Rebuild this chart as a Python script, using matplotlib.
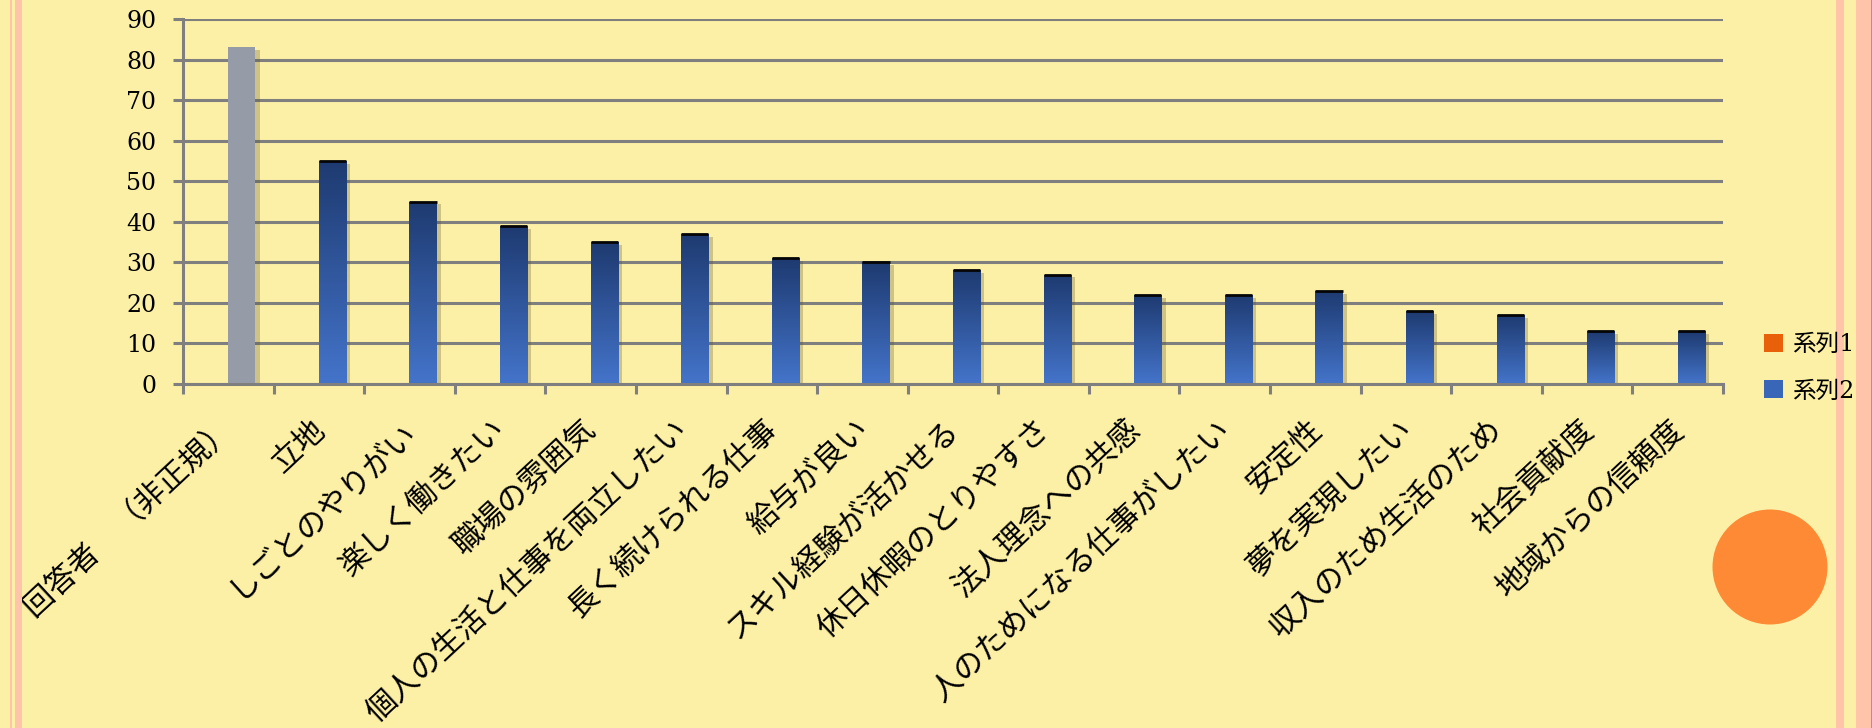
import matplotlib
matplotlib.use('Agg')
import matplotlib.pyplot as plt
import numpy as np
from matplotlib.patches import Rectangle, Ellipse, Patch
import matplotlib.patheffects as pe
from matplotlib.colors import LinearSegmentedColormap
from matplotlib.transforms import ScaledTranslation
from matplotlib.font_manager import FontProperties

# ---------------- data ----------------
categories = ['回答者　（非正規）', '立地', 'しごとのやりがい', '楽しく働きたい', '職場の雰囲気',
              '個人の生活と仕事を両立したい', '長く続けられる仕事', '給与が良い',
              'スキル経験が活かせる', '休日休暇のとりやすさ', '法人理念への共感',
              '人のためになる仕事がしたい', '安定性', '夢を実現したい',
              '収入のため生活のため', '社会貢献度', '地域からの信頼度']
series1 = [0, 0, 0, 0, 0, 0, 0, 0, 0, 0, 0, 0, 0, 0, 0, 0, 0]
series2 = [83, 55, 45, 39, 35, 37, 31, 30, 28, 27, 22, 22, 23, 18, 17, 13, 13]
series_names = ['系列1', '系列2']
yticks = [0, 10, 20, 30, 40, 50, 60, 70, 80, 90]

# ---------------- style ----------------
W, H = 1872, 728
BG = '#FCF0A6'
GRID = '#7F7F7F'
PINK = '#FFC4AA'
ORANGE1 = '#E8600A'
BLUE_TOP = '#1E3A70'
BLUE_BOT = '#4474CA'
GRAY_BAR = '#959CA8'
JP = ['Noto Sans CJK JP', 'DejaVu Sans']
SERIF_JP = ['DejaVu Serif', 'Noto Sans CJK JP']

fig = plt.figure(figsize=(W / 100, H / 100), dpi=100)
fig.patch.set_facecolor(BG)

# decorative page borders
for x0, x1, c in [(10, 12, PINK), (15, 22, PINK), (1836, 1844, PINK),
                  (1856, 1871, PINK), (1871, 1872, '#F08040')]:
    fig.patches.append(Rectangle((x0 / W, 0), (x1 - x0) / W, 1, transform=fig.transFigure,
                                 facecolor=c, edgecolor='none', zorder=0))
# orange circle decoration
fig.patches.append(Ellipse((1770 / W, 1 - 567 / H), 115 / W, 115 / H, transform=fig.transFigure,
                           facecolor='#FF8A35', edgecolor='none', zorder=1))

ax = fig.add_axes([183 / W, 1 - 384 / H, (1723 - 183) / W, (384 - 19) / H])
ax.set_facecolor('none')

x = np.arange(len(categories))
bw = 0.3
shadow = [pe.SimplePatchShadow(offset=(3, -2), shadow_rgbFace='#5A5030', alpha=0.28), pe.Normal()]
b1 = ax.bar(x - bw / 2, series1, bw, color=ORANGE1, zorder=3, label=series_names[0])
colors2 = [GRAY_BAR] + ['#2E55A0'] * (len(series2) - 1)
b2 = ax.bar(x + bw / 2, series2, bw, color=colors2, zorder=3, label=series_names[1])
for p in b2:
    p.set_path_effects(shadow)

ax.set_xlim(-0.5, len(categories) - 0.5)
ax.set_ylim(0, 90)

# gradient fill for blue bars
cmap = LinearSegmentedColormap.from_list('bl', [BLUE_BOT, BLUE_TOP])
grad = np.linspace(0, 1, 256).reshape(-1, 1)
for i, p in enumerate(b2):
    if i == 0:
        continue
    x0, w, h = p.get_x(), p.get_width(), p.get_height()
    im = ax.imshow(grad, cmap=cmap, extent=(x0, x0 + w, 0, h), origin='lower',
                   aspect='auto', zorder=4, interpolation='bilinear')
    im.set_clip_path(p)
# dark cap on top of blue bars
ax.hlines([v for v in series2[1:]], x[1:], x[1:] + bw, colors='#050505',
          linewidth=2.0, zorder=5)
ax.set_xlim(-0.5, len(categories) - 0.5)
ax.set_ylim(0, 90)

# grid & spines
ax.set_yticks(yticks)
ax.yaxis.grid(True, color=GRID, linewidth=2.2)
ax.set_axisbelow(True)
for s in ['top', 'right']:
    ax.spines[s].set_visible(False)
for s in ['left', 'bottom']:
    ax.spines[s].set_color(GRID)
    ax.spines[s].set_linewidth(2.2)
    ax.spines[s].set_zorder(6)

ax.tick_params(axis='y', direction='out', length=7.2, width=2.2, color=GRID, pad=12)
for t in ax.get_yticklabels():
    t.set_fontfamily('DejaVu Serif')
    t.set_fontsize(17)

ax.set_xticks(x)
ax.set_xticks(np.arange(-0.5, len(categories)), minor=True)
ax.tick_params(axis='x', which='major', length=0, pad=30)
ax.tick_params(axis='x', which='minor', direction='out', length=7.2, width=2.2, color=GRID)
ax.set_xticklabels(categories)
off = ScaledTranslation(2 / 100, 0, fig.dpi_scale_trans)
for t in ax.get_xticklabels():
    t.set_rotation(43)
    t.set_ha('right')
    t.set_va('center')
    t.set_rotation_mode('anchor')
    t.set_fontfamily(JP)
    t.set_fontsize(22)
    t.set_transform(t.get_transform() + off)

# legend
fig.legend(handles=[Patch(facecolor=ORANGE1), Patch(facecolor='#3A66B8')], labels=series_names,
           loc='upper left', bbox_to_anchor=(1764 / W, 1 - 333 / H), frameon=False,
           prop=FontProperties(family=SERIF_JP, size=17), handlelength=0.8, handleheight=0.8,
           handletextpad=0.4, labelspacing=1.0, borderpad=0, borderaxespad=0)

fig.savefig('out.png', dpi=100, facecolor=BG)
